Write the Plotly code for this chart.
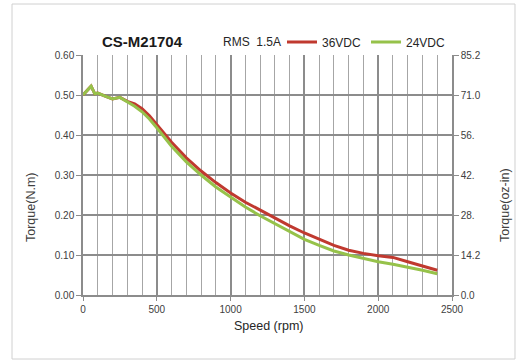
import plotly.graph_objects as go

speed = [0, 30, 55, 80, 100, 150, 200, 250, 300, 350, 400, 450, 500, 550, 600, 700, 800, 900,
         1000, 1100, 1200, 1300, 1400, 1500, 1600, 1700, 1800, 1900, 2000, 2100, 2200, 2300, 2400]
torque_36 = [0.500, 0.512, 0.522, 0.503, 0.505, 0.497, 0.490, 0.494, 0.484, 0.478, 0.466, 0.448, 0.426,
             0.404, 0.382, 0.343, 0.310, 0.281, 0.255, 0.232, 0.212, 0.192, 0.173, 0.155, 0.139,
             0.124, 0.112, 0.104, 0.098, 0.094, 0.083, 0.072, 0.062]
torque_24 = [0.500, 0.512, 0.522, 0.503, 0.505, 0.497, 0.490, 0.494, 0.483, 0.472, 0.458, 0.440, 0.418,
             0.394, 0.372, 0.333, 0.300, 0.270, 0.245, 0.220, 0.198, 0.178, 0.159, 0.139, 0.124,
             0.110, 0.100, 0.091, 0.083, 0.077, 0.070, 0.062, 0.053]

left_ticks = [0.0, 0.1, 0.2, 0.3, 0.4, 0.5, 0.6]
left_labels = ["0.00", "0.10", "0.20", "0.30", "0.40", "0.50", "0.60"]
right_ticks = [0.0, 14.2, 28.4, 42.6, 56.8, 71.0, 85.2]
right_labels = ["0.0", "14.2", "28.", "42.", "56.", "71.0", "85.2"]
x_ticks = [0, 500, 1000, 1500, 2000, 2500]

FONT = "Liberation Sans, Arial"
TXT = "#404040"

fig = go.Figure()
fig.add_trace(go.Scatter(x=speed, y=torque_36, mode="lines", name="36VDC",
                         line=dict(color="#c0392f", width=3)))
fig.add_trace(go.Scatter(x=speed, y=torque_24, mode="lines", name="24VDC",
                         line=dict(color="#96c24a", width=3)))
# invisible trace to activate the right axis
fig.add_trace(go.Scatter(x=[0], y=[0], yaxis="y2", mode="markers",
                         marker=dict(opacity=0), showlegend=False, hoverinfo="skip"))

fig.update_layout(
    width=517, height=361,
    margin=dict(l=83, r=65, t=55, b=66, autoexpand=False),
    paper_bgcolor="white", plot_bgcolor="white",
    font=dict(family=FONT, size=10, color=TXT),
    showlegend=True,
    legend=dict(orientation="h", x=(282 - 83) / 369, xanchor="left", y=(295 - 42) / 240,
                yanchor="middle",
                font=dict(family=FONT, size=12, color="#262626"),
                bgcolor="rgba(0,0,0,0)", itemwidth=30, tracegroupgap=0),
    xaxis=dict(range=[0, 2500], tickvals=x_ticks, showgrid=True,
               gridcolor="#8c8c8c", gridwidth=1.5,
               minor=dict(dtick=100, showgrid=True, gridcolor="#a6a6a6", gridwidth=1.2),
               ticks="outside", ticklen=4, tickcolor="#8c8c8c",
               zeroline=False, showline=True, linecolor="#8c8c8c", linewidth=1.5,
               tickfont=dict(size=10, color=TXT), fixedrange=True),
    yaxis=dict(range=[0, 0.6], tickvals=left_ticks, ticktext=left_labels,
               showgrid=True, gridcolor="#8c8c8c", gridwidth=1.5,
               ticks="outside", ticklen=5, tickcolor="#8c8c8c",
               zeroline=False, showline=True, linecolor="#8c8c8c", linewidth=1.5,
               tickfont=dict(size=10, color=TXT), fixedrange=True),
    yaxis2=dict(range=[0, 85.2], overlaying="y", side="right",
                tickvals=right_ticks, ticktext=right_labels, showgrid=False,
                ticks="outside", ticklen=5, tickcolor="#8c8c8c",
                zeroline=False, showline=True, linecolor="#8c8c8c", linewidth=1.5,
                tickfont=dict(size=10, color=TXT), fixedrange=True),
)

fig.add_shape(type="rect", xref="paper", yref="paper",
              x0=-0.1924, x1=1.1707, y0=-0.2667, y1=1.2125,
              line=dict(color="#d0d0d0", width=1), fillcolor="rgba(0,0,0,0)", layer="below")

def ann(text, px, py, size, color, angle=0):
    fig.add_annotation(text=text, xref="paper", yref="paper",
                       x=(px - 83) / 369, y=(295 - py) / 240,
                       xanchor="center", yanchor="middle", showarrow=False, textangle=angle,
                       font=dict(family=FONT, size=size, color=color))

ann("<b>CS-M21704</b>", 142, 42, 15, "#1a1a1a")
ann("RMS  1.5A", 252, 42, 12, "#262626")
ann("Speed (rpm)", 268, 326, 12.5, "#262626")
ann("Torque(N.m)", 31, 208, 12.5, TXT, -90)
ann("Torque(oz-in)", 505, 205, 12.5, TXT, -90)

fig.write_html("out.html", config={"displayModeBar": False},
               post_script="document.body.style.margin='0';")
